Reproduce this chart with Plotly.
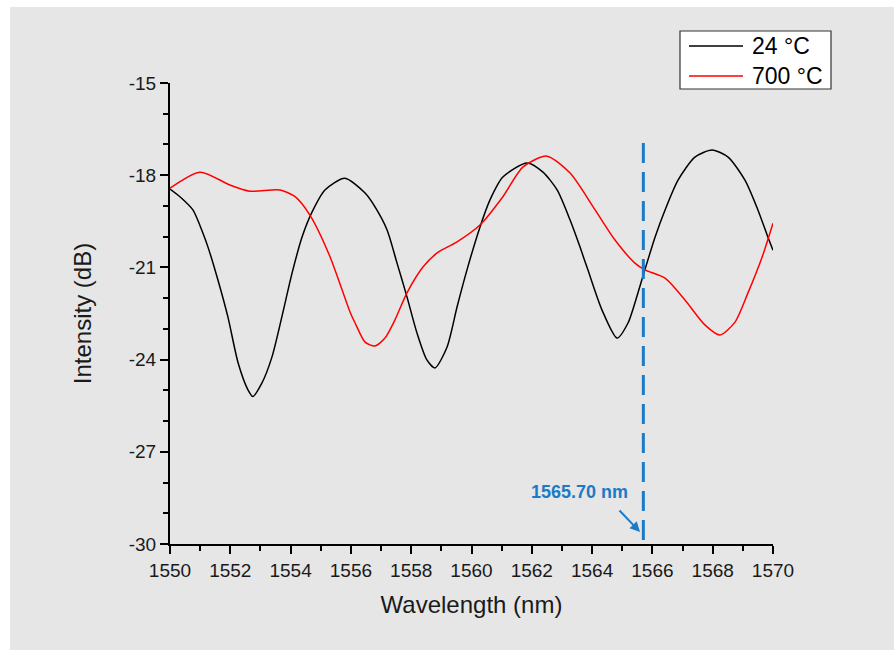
import plotly.graph_objects as go

# 24 °C spectrum
wl_24 = [1550.0, 1550.33, 1550.76, 1551.09, 1551.26, 1551.59, 1551.92, 1552.26, 1552.59, 1552.75,
         1553.05, 1553.38, 1553.71, 1554.05, 1554.38, 1554.71, 1555.14, 1555.8, 1556.47,
         1556.8, 1557.2, 1557.53, 1557.86, 1558.19, 1558.52, 1558.79, 1559.19, 1559.52,
         1559.85, 1560.28, 1560.61, 1561.04, 1561.84, 1562.37, 1562.84, 1563.27, 1563.6,
         1563.86, 1564.33, 1564.83, 1565.19, 1565.52, 1565.75, 1566.09, 1566.42, 1566.85,
         1567.41, 1567.98, 1568.51, 1569.07, 1569.5, 1569.83, 1570.0]
int_24 = [-18.45, -18.7, -19.13, -19.88, -20.34, -21.41, -22.61, -24.11, -24.99, -25.2,
          -24.76, -23.92, -22.61, -21.18, -20.01, -19.2, -18.48, -18.1, -18.58,
          -19.03, -19.78, -20.86, -21.96, -23.13, -24.01, -24.27, -23.59, -22.29,
          -21.08, -19.69, -18.81, -18.06, -17.6, -17.9, -18.48, -19.46, -20.34,
          -21.08, -22.39, -23.3, -22.81, -21.83, -21.08, -20.01, -19.13, -18.16,
          -17.41, -17.18, -17.41, -18.16, -19.13, -20.01, -20.44]

# 700 °C spectrum
wl_700 = [1550.0, 1551.0, 1551.99, 1552.65, 1553.65, 1554.15, 1554.64, 1555.31, 1555.97,
          1556.14, 1556.47, 1556.8, 1557.13, 1557.46, 1557.86, 1558.39, 1558.86, 1559.52,
          1560.28, 1561.04, 1561.71, 1562.5, 1563.27, 1564.1, 1564.76, 1565.42, 1565.75,
          1566.42, 1567.08, 1567.74, 1568.24, 1568.74, 1569.17, 1569.64, 1570.0]
int_700 = [-18.42, -17.9, -18.32, -18.52, -18.48, -18.7, -19.3, -20.66, -22.45,
           -22.81, -23.43, -23.56, -23.3, -22.71, -21.83, -20.99, -20.53, -20.17,
           -19.62, -18.7, -17.73, -17.38, -17.93, -19.13, -20.11, -20.86, -21.08,
           -21.35, -22.06, -22.87, -23.2, -22.78, -21.83, -20.66, -19.56]

series_names = ["24 °C", "700 °C"]
series_colors = ["black", "#ff0000"]

marker_wl = 1565.70
marker_top = -16.95
marker_label = "1565.70 nm"

x_ticks = [1550, 1552, 1554, 1556, 1558, 1560, 1562, 1564, 1566, 1568, 1570]
y_ticks = [-30, -27, -24, -21, -18, -15]

FONT = "Liberation Sans, Arial, sans-serif"
BLUE = "#1b7bc6"

fig = go.Figure()
fig.add_trace(go.Scatter(x=wl_24, y=int_24, mode="lines", name=series_names[0], showlegend=False,
                         line=dict(color=series_colors[0], width=1.5, shape="spline", smoothing=0.7)))
fig.add_trace(go.Scatter(x=wl_700, y=int_700, mode="lines", name=series_names[1], showlegend=False,
                         line=dict(color=series_colors[1], width=1.5, shape="spline", smoothing=0.7)))
fig.add_trace(go.Scatter(x=[marker_wl, marker_wl], y=[marker_top, -30], mode="lines",
                         showlegend=False, hoverinfo="skip",
                         line=dict(color=BLUE, width=3, dash="20px,9px")))

# plot area geometry (pixels)
L, R, T, B = 170, 121, 83, 106
W, H = 894, 650
pw, ph = W - L - R, H - T - B

def px(xp):
    return (xp - L) / pw

def py(yp):
    return 1 - (yp - T) / ph

shapes = [
    dict(type="rect", xref="paper", yref="paper", x0=px(0), x1=px(10), y0=py(H), y1=py(0),
         fillcolor="white", line=dict(width=0), layer="below"),
    dict(type="rect", xref="paper", yref="paper", x0=px(0), x1=px(W), y0=py(7), y1=py(0),
         fillcolor="white", line=dict(width=0), layer="below"),
    # legend box
    dict(type="rect", xref="paper", yref="paper", x0=px(680), x1=px(831), y0=py(89), y1=py(31),
         fillcolor="white", line=dict(color="#333333", width=1.2)),
]
annotations = [
    dict(x=1563.58, y=-28.31, xref="x", yref="y", text="<b>" + marker_label + "</b>",
         showarrow=False, font=dict(family=FONT, size=18, color=BLUE)),
    dict(x=1565.59, y=-29.61, xref="x", yref="y", text="", showarrow=True,
         ax=-22, ay=-23, arrowhead=2, arrowsize=1, arrowwidth=2, arrowcolor=BLUE),
]
legend_rows = [46, 76]
for name, color, row in zip(series_names, series_colors, legend_rows):
    shapes.append(dict(type="line", xref="paper", yref="paper", x0=px(689), x1=px(743),
                       y0=py(row), y1=py(row), line=dict(color=color, width=1.3)))
    annotations.append(dict(x=px(750), y=py(row), xref="paper", yref="paper", text=name,
                            showarrow=False, xanchor="left", yanchor="middle",
                            font=dict(family=FONT, size=23, color="black")))

fig.update_layout(
    width=W, height=H,
    margin=dict(l=L, r=R, t=T, b=B),
    paper_bgcolor="#e6e6e6", plot_bgcolor="#e6e6e6",
    font=dict(family=FONT, color="#1a1a1a"),
    shapes=shapes, annotations=annotations,
    showlegend=False,
    xaxis=dict(range=[1550, 1570], tickvals=x_ticks, ticktext=[str(v) for v in x_ticks],
               ticks="outside", ticklen=8, tickwidth=2,
               tickcolor="black", showline=True, linecolor="black", linewidth=2,
               showgrid=False, zeroline=False, tickfont=dict(size=19),
               minor=dict(dtick=1, ticks="outside", ticklen=5, tickwidth=2, tickcolor="black",
                          showgrid=False),
               title=dict(text="Wavelength (nm)", font=dict(size=24), standoff=16)),
    yaxis=dict(range=[-30, -15], tickvals=y_ticks, ticktext=[str(v) for v in y_ticks],
               ticks="outside", ticklen=8, tickwidth=2,
               tickcolor="black", showline=True, linecolor="black", linewidth=2,
               showgrid=False, zeroline=False, tickfont=dict(size=19),
               minor=dict(dtick=1, ticks="outside", ticklen=5, tickwidth=2, tickcolor="black",
                          showgrid=False),
               title=dict(text="Intensity (dB)", font=dict(size=24), standoff=30)),
)

fig.write_html("out.html")
